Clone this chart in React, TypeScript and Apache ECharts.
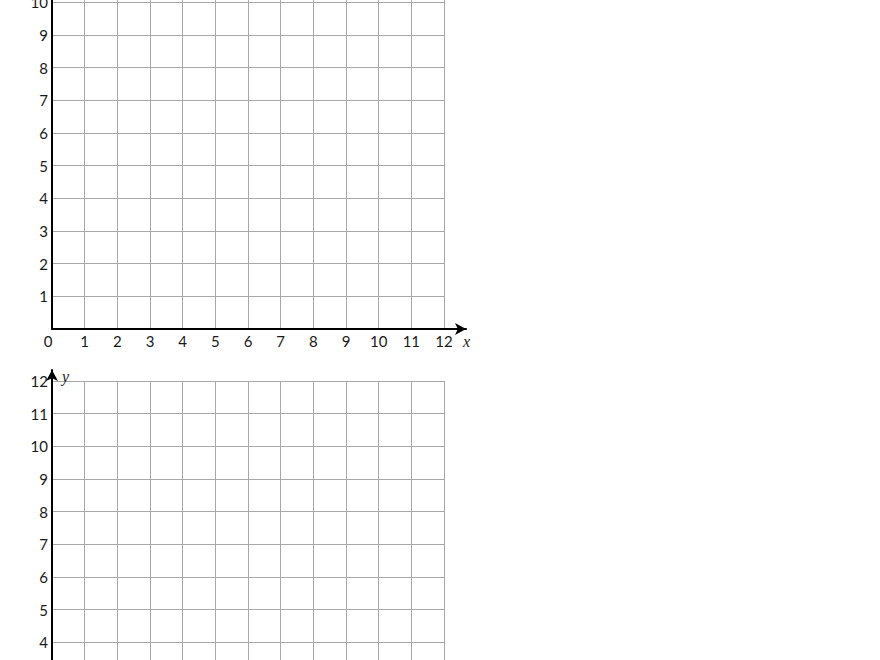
import { useEffect, useRef } from "react";
import * as echarts from "echarts";

// tick values of the two coordinate grids
const xTicks = [0, 1, 2, 3, 4, 5, 6, 7, 8, 9, 10, 11, 12];
const yTicks = [0, 1, 2, 3, 4, 5, 6, 7, 8, 9, 10, 11, 12];
const axisNames = ["x", "y"];
// y labels that fall inside the page for each sheet
const topSheetYLabels = [1, 2, 3, 4, 5, 6, 7, 8, 9, 10];
const bottomSheetYLabels = [4, 5, 6, 7, 8, 9, 10, 11, 12];

const UNIT = 32.67;
const SIZE = UNIT * (xTicks.length - 1);
const LEFT = 52;
const TOP_AXIS_Y = 329;
const BOTTOM_TOP_Y = 381;

const labelFont = { fontFamily: "Lato", fontSize: 15, color: "#1a1a1a" };
const nameFont = {
  fontFamily: "Liberation Serif",
  fontStyle: "italic" as const,
  fontSize: 16,
  color: "#222",
};

export default function App() {
  const chartRef = useRef<HTMLDivElement | null>(null);

  useEffect(() => {
    if (!chartRef.current) return;
    const chart = echarts.init(chartRef.current, undefined, { renderer: "svg" });

    const xMin = xTicks[0];
    const xMax = xTicks[xTicks.length - 1];
    const yMin = yTicks[0];
    const yMax = yTicks[yTicks.length - 1];

    const gridX = (idx: number, showLabels: boolean) => ({
      type: "value" as const,
      gridIndex: idx,
      min: xMin,
      max: xMax,
      interval: 1,
      axisLine: { show: false },
      axisTick: { show: false },
      axisLabel: {
        show: showLabels,
        margin: 4,
        ...labelFont,
        formatter: (v: number) => (v === 0 ? "{z|0}" : String(v)),
        rich: { z: { ...labelFont, padding: [0, 8, 0, 0] } },
      },
      splitLine: { show: true, lineStyle: { color: "#a8a8a8", width: 1 } },
    });

    const gridY = (idx: number, shown: number[]) => ({
      type: "value" as const,
      gridIndex: idx,
      min: yMin,
      max: yMax,
      interval: 1,
      axisLine: { show: false },
      axisTick: { show: false },
      axisLabel: {
        margin: 4,
        ...labelFont,
        formatter: (v: number) => (shown.includes(v) ? String(v) : ""),
      },
      splitLine: { show: true, lineStyle: { color: "#a8a8a8", width: 1 } },
    });

    const arrowAxis = (idx: number, name: string, isX: boolean) => ({
      type: "value" as const,
      gridIndex: idx,
      min: 0,
      max: 1,
      name,
      nameLocation: "end" as const,
      nameGap: isX ? -3 : 0,
      nameTextStyle: isX
        ? { ...nameFont, verticalAlign: "top" as const, padding: [4, 0, 0, 0] }
        : { ...nameFont, align: "left" as const, verticalAlign: "top" as const, padding: [-2, 0, 0, 10] },
      axisLine: {
        show: true,
        symbol: ["none", "arrow"],
        symbolSize: [9, 11],
        lineStyle: { color: "#000", width: 2 },
      },
      axisTick: { show: false },
      axisLabel: { show: false },
      splitLine: { show: false },
    });

    const box = (top: number, width: number, height: number) => ({
      left: LEFT,
      top,
      width,
      height,
      outerBoundsMode: "none",
      containLabel: false,
    });

    chart.setOption({
      animation: false,
      grid: [
        // top sheet: grid lines
        box(TOP_AXIS_Y - SIZE, SIZE, SIZE),
        // top sheet: arrowed axes
        box(TOP_AXIS_Y - SIZE - 11, SIZE + 22, SIZE + 11),
        // bottom sheet: grid lines (runs off the bottom of the page)
        box(BOTTOM_TOP_Y, SIZE, SIZE),
        // bottom sheet: arrowed axes
        box(BOTTOM_TOP_Y - 11, SIZE + 22, SIZE + 11),
      ],
      xAxis: [
        gridX(0, true),
        { ...arrowAxis(1, axisNames[0], true), position: "bottom" },
        gridX(2, false),
        { ...arrowAxis(3, "", true), position: "bottom" },
      ],
      yAxis: [
        gridY(0, topSheetYLabels),
        { ...arrowAxis(1, "", false), position: "left" },
        gridY(2, bottomSheetYLabels),
        { ...arrowAxis(3, axisNames[1], false), position: "left" },
      ],
      series: [],
    });

    return () => {
      chart.dispose();
    };
  }, []);

  return (
    <div
      ref={chartRef}
      style={{ position: "fixed", left: 0, top: 0, width: "880px", height: "660px", background: "#fff" }}
    />
  );
}
